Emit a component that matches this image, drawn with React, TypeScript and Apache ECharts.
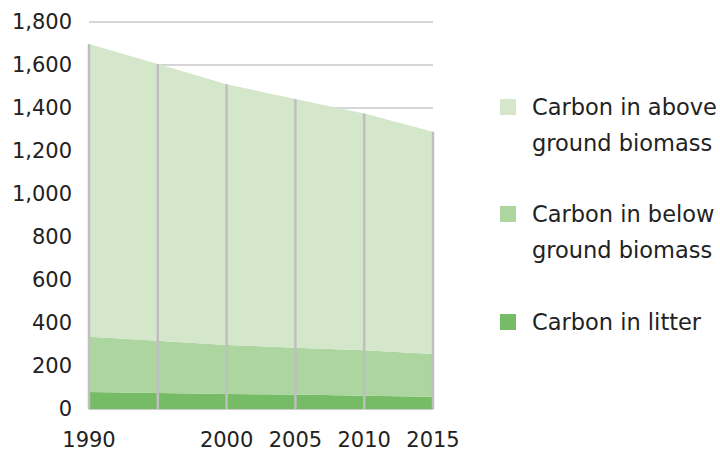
import React, { useEffect, useRef } from "react";
import * as echarts from "echarts";

const years = ["1990", "1995", "2000", "2005", "2010", "2015"];
const xTickLabels = ["1990", "", "2000", "2005", "2010", "2015"];
const litter = [79, 75, 70, 67, 62, 57];
const belowGround = [257, 243, 228, 218, 211, 199];
const aboveGround = [1362, 1287, 1212, 1157, 1102, 1034];

const seriesNames = [
  "Carbon in above\nground biomass",
  "Carbon in below\nground biomass",
  "Carbon in litter",
];
const colors = ["#d4e7cb", "#acd59f", "#76bb65"];

const FONT = "DejaVu Sans";

export default function App() {
  const ref = useRef<HTMLDivElement>(null);
  useEffect(() => {
    if (!ref.current) return;
    document.body.style.margin = "0";
    const chart = echarts.init(ref.current, undefined, { renderer: "svg" });
    const totals = years.map((_, i) => litter[i] + belowGround[i] + aboveGround[i]);
    const legendText = (twoLine: boolean) => ({
      color: "#222",
      fontFamily: FONT,
      fontSize: 22.5,
      lineHeight: 36,
      padding: twoLine ? [36, 0, 0, 11] : [0, 0, 0, 11],
      rich: {
        t: { color: "#222", fontFamily: FONT, fontSize: 22.5, lineHeight: 36 },
      },
    });
    const legendBase = {
      orient: "vertical",
      left: 500,
      itemWidth: 16,
      itemHeight: 16,
      icon: "rect",
      padding: 0,
      selectedMode: false,
      formatter: (name: string) =>
        name
          .split("\n")
          .map((l) => `{t|${l}}`)
          .join("\n"),
    };
    chart.setOption({
      animation: false,
      textStyle: { fontFamily: FONT },
      grid: { left: 89, right: 287, top: 22, bottom: 41, containLabel: false },
      legend: [
        { ...legendBase, top: 53, data: [seriesNames[0]], textStyle: legendText(true) },
        { ...legendBase, top: 160, data: [seriesNames[1]], textStyle: legendText(true) },
        { ...legendBase, top: 304, data: [seriesNames[2]], textStyle: legendText(false) },
      ],
      xAxis: {
        type: "category",
        data: years,
        boundaryGap: false,
        axisTick: { show: false },
        axisLine: { show: true, lineStyle: { color: "#c8c8c8", width: 1.5 } },
        splitLine: { show: false },
        axisLabel: {
          interval: 0,
          color: "#222",
          fontFamily: FONT,
          fontSize: 21,
          margin: 20,
          formatter: (_v: string, i: number) => xTickLabels[i],
        },
      },
      yAxis: {
        type: "value",
        min: 0,
        max: 1800,
        interval: 200,
        axisLine: { show: false },
        axisTick: { show: false },
        splitLine: { lineStyle: { color: "#c8c8c8", width: 1.5 } },
        axisLabel: {
          color: "#222",
          fontFamily: FONT,
          fontSize: 21,
          margin: 17,
          formatter: (v: number) => v.toLocaleString("en-US"),
        },
      },
      series: [
        {
          name: seriesNames[2],
          type: "line",
          stack: "total",
          data: litter,
          symbol: "none",
          lineStyle: { width: 0 },
          areaStyle: { color: colors[2], opacity: 1 },
          itemStyle: { color: colors[2] },
        },
        {
          name: seriesNames[1],
          type: "line",
          stack: "total",
          data: belowGround,
          symbol: "none",
          lineStyle: { width: 0 },
          areaStyle: { color: colors[1], opacity: 1 },
          itemStyle: { color: colors[1] },
        },
        {
          name: seriesNames[0],
          type: "line",
          stack: "total",
          data: aboveGround,
          symbol: "none",
          lineStyle: { width: 0 },
          areaStyle: { color: colors[0], opacity: 1 },
          itemStyle: { color: colors[0] },
        },
        {
          name: "dropLines",
          type: "bar",
          data: totals,
          barWidth: 2.5,
          z: 5,
          itemStyle: { color: "#bfbfbf" },
          silent: true,
        },
      ],
    });
    return () => chart.dispose();
  }, []);
  return <div ref={ref} style={{ width: 720, height: 450 }} />;
}
